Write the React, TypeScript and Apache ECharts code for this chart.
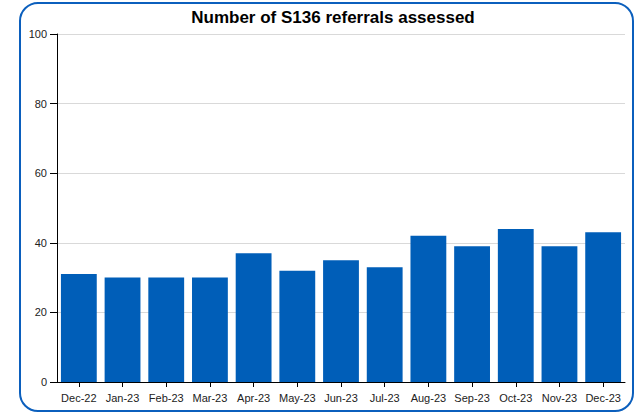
import React, { useEffect, useRef } from "react";
import * as echarts from "echarts";

const categories = ["Dec-22", "Jan-23", "Feb-23", "Mar-23", "Apr-23", "May-23", "Jun-23", "Jul-23", "Aug-23", "Sep-23", "Oct-23", "Nov-23", "Dec-23"];
const values = [31, 30, 30, 30, 37, 32, 35, 33, 42, 39, 44, 39, 43];
const title = "Number of S136 referrals assessed";

export default function App() {
  const ref = useRef<HTMLDivElement>(null);
  useEffect(() => {
    document.body.style.margin = "0";
    const chart = echarts.init(ref.current!, null, { renderer: "svg" });
    chart.setOption({
      animation: false,
      title: {
        text: title,
        left: 328,
        textAlign: "center",
        top: 4,
        textStyle: { fontFamily: "Liberation Sans, Arial", fontSize: 17, fontWeight: "bold", color: "#000" },
      },
      graphic: [
        {
          type: "rect",
          shape: { x: 20, y: 3, width: 613, height: 408, r: 18 },
          style: { fill: "none", stroke: "#0b5fbd", lineWidth: 2 },
          silent: true,
        },
      ],
      grid: { left: 57, right: 12, top: 34, bottom: 32 },
      xAxis: {
        type: "category",
        data: categories,
        axisLine: { show: true, lineStyle: { color: "#000", width: 1 } },
        axisTick: { show: true, alignWithLabel: true, length: 5, lineStyle: { color: "#000" } },
        axisLabel: { fontFamily: "Liberation Sans, Arial", fontSize: 11, color: "#222", margin: 10, interval: 0 },
      },
      yAxis: {
        type: "value",
        min: 0,
        max: 100,
        interval: 20,
        axisLine: { show: true, lineStyle: { color: "#000", width: 1 } },
        axisTick: { show: true, length: 7, lineStyle: { color: "#000" } },
        axisLabel: { fontFamily: "Liberation Sans, Arial", fontSize: 11, color: "#222", margin: 10 },
        splitLine: { show: true, lineStyle: { color: "#d9d9d9", width: 1 } },
      },
      series: [
        {
          type: "bar",
          data: values,
          barCategoryGap: "18%",
          itemStyle: { color: "#005EB8" },
        },
      ],
    });
    return () => chart.dispose();
  }, []);
  return <div ref={ref} style={{ width: 637, height: 414 }} />;
}
